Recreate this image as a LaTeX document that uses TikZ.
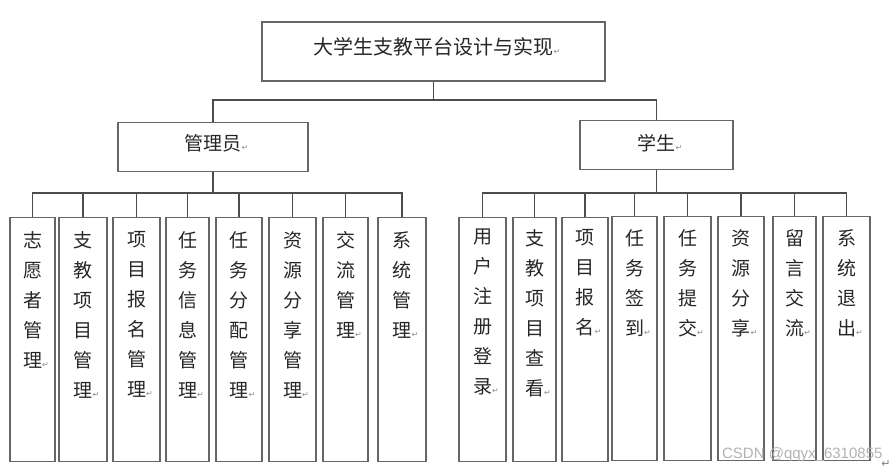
\documentclass[tikz,border=0pt]{standalone}
\usepackage{fontspec}
\setmainfont{Noto Sans CJK SC}
\newfontfamily\retfont{DejaVu Sans}
\newfontfamily\wmfont{Liberation Sans}
\usetikzlibrary{positioning,calc}

% paragraph mark after the last character, kept out of the centring
\newcommand{\ret}{\rlap{\retfont\fontsize{8}{8}\selectfont\textcolor{black!45}{↵}}}

\begin{document}
\begin{tikzpicture}[
  x=1pt,y=-1pt,
  every node/.style={text=black!85},
  box/.style={rectangle,draw=black!60,line width=1.1pt,inner sep=0pt},
  top/.style={box,minimum width=343pt,minimum height=59pt},
  role/.style={box,minimum height=49pt},
  leaf/.style={box,anchor=north,minimum height=244pt},
  ttl/.style={font=\fontsize{20}{20}\selectfont,inner sep=0pt},
  rtl/.style={font=\fontsize{19}{19}\selectfont,inner sep=0pt},
  col/.style={font=\fontsize{19}{30}\selectfont,align=center,anchor=north,inner sep=0pt},
  link/.style={draw=black!70,line width=1.1pt},
]
\useasboundingbox (0,0) rectangle (893,470);

% ---------- top ----------
\node[top] (root) at (433.5,51.5) {};
\node[ttl] (roott) at (433.5,47) {大学生支教平台设计与实现\ret};
\node[role,minimum width=190pt] (adm) at (213,147) {};
\node[rtl] (admt) at (213,143) {管理员\ret};
\node[role,minimum width=153pt] (stu) at (656.5,145) {};
\node[rtl] (stut) at (656.5,143) {学生\ret};
\coordinate (rj) at (433.5,100);
\draw[link] (root) -- (rj);
\draw[link] (adm.north) |- (rj) -| (stu.north);

% ---------- admin leaves ----------
\node[leaf,minimum width=45pt] (a1) at (32.5,217) {};
\node[leaf,minimum width=48pt] (a2) at (83,217) {};
\node[leaf,minimum width=47pt] (a3) at (136.5,217) {};
\node[leaf,minimum width=43pt] (a4) at (187.5,217) {};
\node[leaf,minimum width=46pt] (a5) at (239,217) {};
\node[leaf,minimum width=47pt] (a6) at (292.5,217) {};
\node[leaf,minimum width=45pt] (a7) at (345.5,217) {};
\node[leaf,minimum width=48pt] (a8) at (402,217) {};
\node[col] (a1t) at (32.5,231) {志\\愿\\者\\管\\理\ret};
\node[col] (a2t) at (83,231) {支\\教\\项\\目\\管\\理\ret};
\node[col] (a3t) at (136.5,231) {项\\目\\报\\名\\管\\理\ret};
\node[col] (a4t) at (187.5,231) {任\\务\\信\\息\\管\\理\ret};
\node[col] (a5t) at (239,231) {任\\务\\分\\配\\管\\理\ret};
\node[col] (a6t) at (292.5,231) {资\\源\\分\\享\\管\\理\ret};
\node[col] (a7t) at (345.5,231) {交\\流\\管\\理\ret};
\node[col] (a8t) at (402,231) {系\\统\\管\\理\ret};
\coordinate (ab) at (213,193);
\draw[link] (adm) -- (ab);
\draw[link] (ab) -| (a1.north) (ab) -| (a2.north) (ab) -| (a3.north)
  (ab) -| (a4.north) (ab) -| (a5.north) (ab) -| (a6.north)
  (ab) -| (a7.north) (ab) -| (a8.north);

% ---------- student leaves ----------
\node[leaf,minimum width=47pt] (s1) at (482.5,217) {};
\node[leaf,minimum width=43pt] (s2) at (534.5,217) {};
\node[leaf,minimum width=46pt] (s3) at (585,217) {};
\node[leaf,minimum width=45pt] (s4) at (634.5,216) {};
\node[leaf,minimum width=47pt] (s5) at (687.5,216) {};
\node[leaf,minimum width=46pt] (s6) at (741,216) {};
\node[leaf,minimum width=43pt] (s7) at (794.5,216) {};
\node[leaf,minimum width=47pt] (s8) at (846.5,216) {};
\node[col] (s1t) at (482.5,229) {用\\户\\注\\册\\登\\录\ret};
\node[col] (s2t) at (534.5,229) {支\\教\\项\\目\\查\\看\ret};
\node[col] (s3t) at (585,229) {项\\目\\报\\名\ret};
\node[col] (s4t) at (634.5,229) {任\\务\\签\\到\ret};
\node[col] (s5t) at (687.5,229) {任\\务\\提\\交\ret};
\node[col] (s6t) at (741,229) {资\\源\\分\\享\ret};
\node[col] (s7t) at (794.5,229) {留\\言\\交\\流\ret};
\node[col] (s8t) at (846.5,229) {系\\统\\退\\出\ret};
\coordinate (sb) at (656.5,193);
\draw[link] (stu) -- (sb);
\draw[link] (sb) -| (s1.north) (sb) -| (s2.north) (sb) -| (s3.north)
  (sb) -| (s4.north) (sb) -| (s5.north) (sb) -| (s6.north)
  (sb) -| (s7.north) (sb) -| (s8.north);

\node[font=\wmfont\fontsize{15}{15}\selectfont,text=black!30,anchor=east] (wm)
  at (886,455) {CSDN @qqyx\_6310855};
\node[font=\retfont\fontsize{11}{11}\selectfont,text=black!50] (endm) at (886,464) {↵};
\end{tikzpicture}
\end{document}
